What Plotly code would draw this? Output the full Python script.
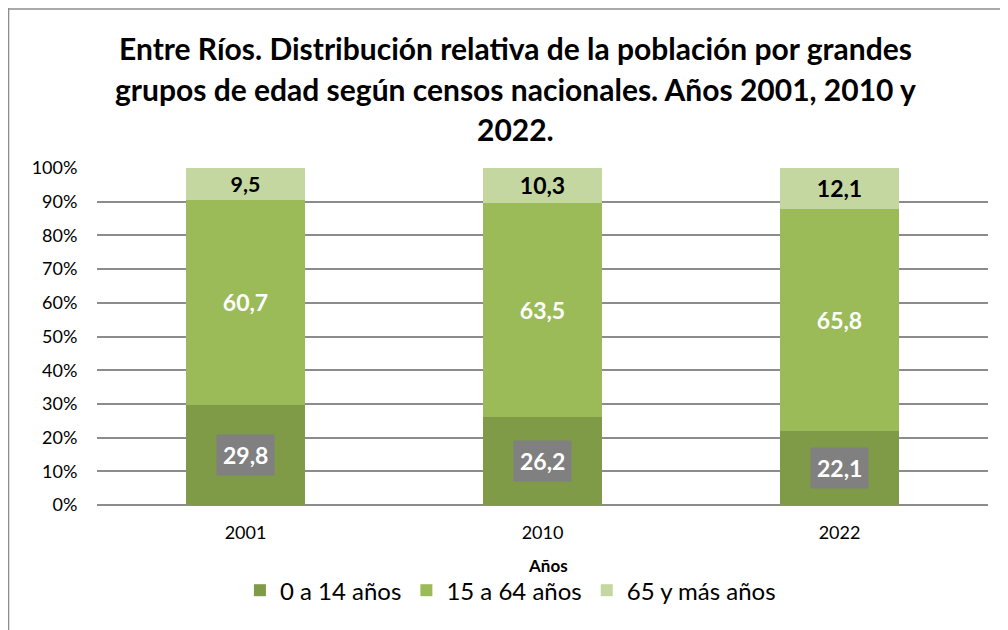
import plotly.graph_objects as go

years = ["2001", "2010", "2022"]
series_names = ["0 a 14 años", "15 a 64 años", "65 y más años"]
v_0_14 = [29.8, 26.2, 22.1]
v_15_64 = [60.7, 63.5, 65.8]
v_65 = [9.5, 10.3, 12.1]
y_ticks = [0, 10, 20, 30, 40, 50, 60, 70, 80, 90, 100]
y_tick_labels = [f"{t}%" for t in y_ticks]
title_lines = [
    "Entre Ríos. Distribución relativa de la población por grandes",
    "grupos de edad según censos nacionales. Años 2001, 2010 y",
    "2022.",
]

FONT = "Lato"
colors = ["#7f9b48", "#9bbb59", "#c4d7a0"]


def fmt(v):
    return f"{v:.1f}".replace(".", ",")


fig = go.Figure()
fig.add_trace(go.Bar(x=years, y=v_0_14, name=series_names[0], marker_color=colors[0],
                     marker_line_width=0))
fig.add_trace(go.Bar(x=years, y=v_15_64, name=series_names[1], marker_color=colors[1],
                     marker_line_width=0,
                     text=[f"<b>{fmt(v)}</b>" for v in v_15_64],
                     textposition="inside", insidetextanchor="middle",
                     textfont=dict(family=FONT, size=23, color="white")))
fig.add_trace(go.Bar(x=years, y=v_65, name=series_names[2], marker_color=colors[2],
                     marker_line_width=0,
                     text=[f"<b>{fmt(v)}</b>" for v in v_65],
                     textposition="inside", insidetextanchor="middle",
                     textfont=dict(family=FONT, size=23, color="black")))

# bottom series labels in grey boxes
for i, v in enumerate(v_0_14):
    fig.add_annotation(x=i, y=v / 2, xref="x", yref="y",
                       text=f"<b>{fmt(v)}</b>", showarrow=False,
                       font=dict(family=FONT, size=23, color="white"),
                       bgcolor="#808080", borderpad=6)

# title lines
for line, yp in zip(title_lines, [1.356, 1.234, 1.116]):
    fig.add_annotation(x=0.47, y=yp, xref="paper", yref="paper", text=f"<b>{line}</b>",
                       showarrow=False, font=dict(family=FONT, size=30, color="black"),
                       yanchor="middle")

# axis title
fig.add_annotation(x=0.506, y=-0.181, xref="paper", yref="paper", text="<b>Años</b>",
                   showarrow=False, font=dict(family=FONT, size=17, color="black"),
                   yanchor="middle")

# outer border (left and top)
fig.add_shape(type="line", xref="paper", yref="paper", x0=-0.0993, x1=-0.0993, y0=-0.5, y1=1.5,
              line=dict(color="#8c8c8c", width=1.5))
fig.add_shape(type="line", xref="paper", yref="paper", x0=-0.11, x1=1.1, y0=1.4718, y1=1.4718,
              line=dict(color="#8c8c8c", width=1.5))

fig.update_layout(
    barmode="stack",
    bargap=0.6,
    width=1000, height=622,
    margin=dict(l=89, r=20, t=160, b=125),
    paper_bgcolor="white", plot_bgcolor="white",
    font=dict(family=FONT, color="black"),
    showlegend=True,
    legend=dict(orientation="h", x=0.464, xanchor="center", y=-0.254, yanchor="middle",
                font=dict(family=FONT, size=24, color="black"), traceorder="normal"),
)
fig.update_yaxes(range=[0, 100], tickvals=y_ticks, ticktext=y_tick_labels,
                 showgrid=True, gridcolor="#8c8c8c", gridwidth=1.5,
                 zeroline=True, zerolinecolor="#8c8c8c", zerolinewidth=1.5,
                 tickfont=dict(family=FONT, size=18, color="black"),
                 ticks="outside", ticklen=15, tickcolor="rgba(0,0,0,0)",
                 showline=False)
fig.update_xaxes(type="category", categoryorder="array", categoryarray=years,
                 range=[-0.5, len(years) - 0.5],
                 tickfont=dict(family=FONT, size=18, color="black"),
                 ticks="outside", ticklen=11, tickcolor="rgba(0,0,0,0)",
                 showline=False)

fig.write_html("out.html")
